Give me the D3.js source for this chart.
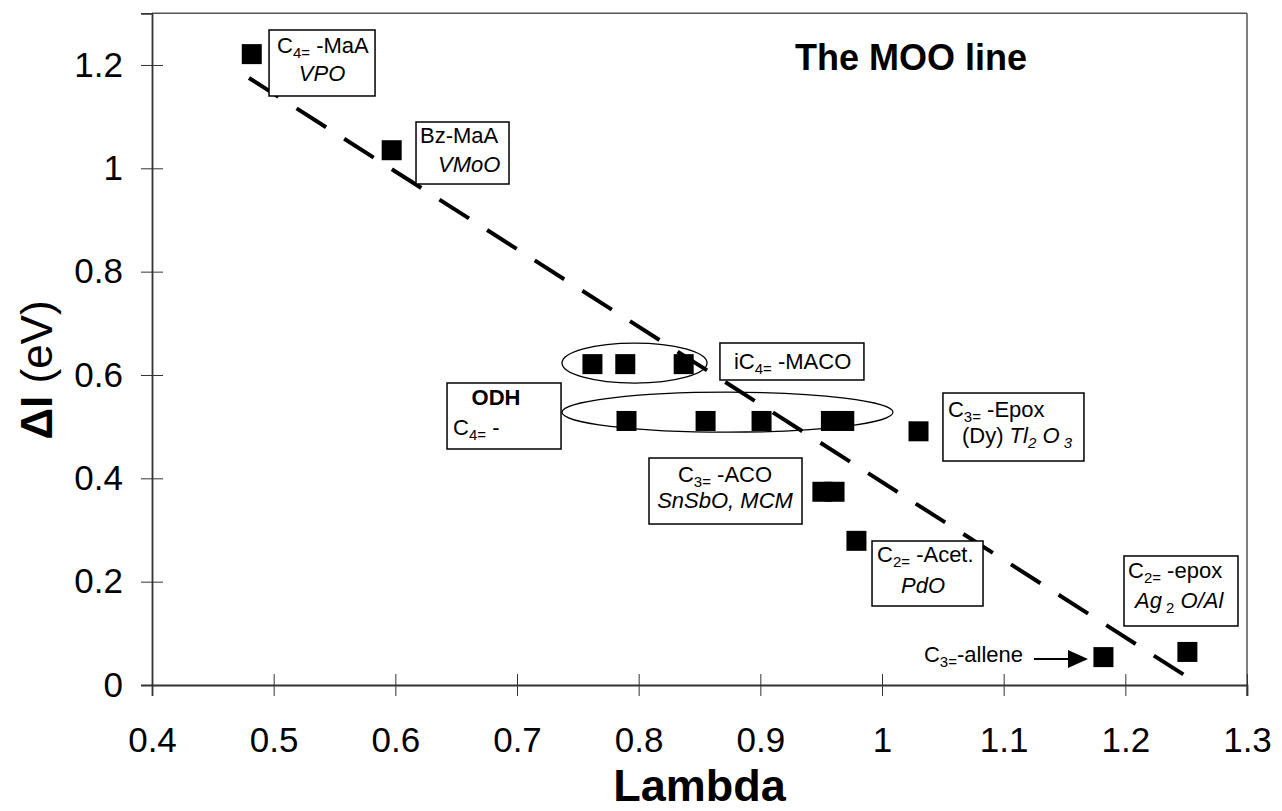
<!DOCTYPE html>
<html>
<head>
<meta charset="utf-8">
<script src="https://cdn.jsdelivr.net/npm/d3@7"></script>
<style>
  body { margin: 0; background: #fff; }
  svg { font-family: "Liberation Sans", Arial, sans-serif; }
</style>
</head>
<body>
<svg id="chart" width="1282" height="811"></svg>
<script>
// measured points (Lambda, delta I in eV)
var lambdaVals = [0.482, 0.597, 0.762, 0.789, 0.837, 0.790, 0.855, 0.901, 0.958, 0.969, 1.030, 0.951, 0.961, 0.979, 1.182, 1.251],
    deltaI     = [1.221, 1.035, 0.621, 0.621, 0.621, 0.511, 0.511, 0.511, 0.511, 0.511, 0.491, 0.374, 0.374, 0.279, 0.054, 0.064],
    xTicks = [0.4, 0.5, 0.6, 0.7, 0.8, 0.9, 1, 1.1, 1.2, 1.3],
    yTicks = [0, 0.2, 0.4, 0.6, 0.8, 1, 1.2],
    mooLine = [[0.4797, 1.1748], [1.2613, 0]];

// annotation anchors, in data units
var groups = [
    {cx: 0.7966, cy: 0.623, rx: 72.5, ry: 20},
    {cx: 0.873, cy: 0.528, rx: 165.5, ry: 20}
];
// segs: [text, flags]  flags: s = subscript, i = italic, b = bold
var notes = [
    {x: 0.4962, y: 1.2677, w: 106, h: 66, lines: [
        {dx: 8, dy: 23, a: "start", segs: [["C"], ["4=", "s"], [" -MaA"]]},
        {dx: 53, dy: 51, a: "middle", segs: [["VPO", "i"]]}]},
    {x: 0.6170, y: 1.0896, w: 93, h: 62, lines: [
        {dx: 4, dy: 21, a: "start", segs: [["Bz-MaA"]]},
        {dx: 22, dy: 50, a: "start", segs: [["VMoO", "i"]]}]},
    {x: 0.8668, y: 0.6619, w: 144, h: 37, lines: [
        {dx: 14, dy: 26, a: "start", segs: [["iC"], ["4=", "s"], [" -MACO"]]}]},
    {x: 0.6425, y: 0.5845, w: 114, h: 66, lines: [
        {dx: 49, dy: 22, a: "middle", segs: [["ODH", "b"]]},
        {dx: 6, dy: 52, a: "start", segs: [["C"], ["4=", "s"], [" -"]]}]},
    {x: 1.0501, y: 0.5651, w: 141, h: 68, lines: [
        {dx: 5, dy: 24, a: "start", segs: [["C"], ["3=", "s"], [" -Epox"]]},
        {dx: 19, dy: 50, a: "start", segs: [["(Dy)"], [" Tl", "i"], ["2", "si"], [" O", "i"], [" 3", "si"]]}]},
    {x: 0.8085, y: 0.4393, w: 153, h: 66, lines: [
        {dx: 76, dy: 24, a: "middle", segs: [["C"], ["3=", "s"], [" -ACO"]]},
        {dx: 76, dy: 50, a: "middle", segs: [["SnSbO, MCM", "i"]]}]},
    {x: 0.9918, y: 0.2787, w: 111, h: 65, lines: [
        {dx: 5, dy: 21, a: "start", segs: [["C"], ["2=", "s"], [" -Acet."]]},
        {dx: 51, dy: 52, a: "middle", segs: [["PdO", "i"]]}]},
    {x: 1.1989, y: 0.2497, w: 114, h: 70, lines: [
        {dx: 4, dy: 22, a: "start", segs: [["C"], ["2=", "s"], [" -epox"]]},
        {dx: 11, dy: 52, a: "start", segs: [["Ag", "i"], [" 2", "s"], [" O/Al", "i"]]}]}
];
var allene = {tx: 1.1159, ty: 0.0445, ax1: 1.1249, ax2: 1.1693, ay: 0.0503};

var svg = d3.select("#chart"),
    x = d3.scaleLinear().domain([0.4, 1.3]).range([152, 1247]),
    y = d3.scaleLinear().domain([0, 1.3]).range([685, 13.3]),
    axisCol = "#333";

svg.append("rect").attr("width", 1282).attr("height", 811).attr("fill", "#fff");

// frame top + right
svg.append("line").attr("x1", x(0.4)).attr("x2", x(1.3)).attr("y1", y(1.3)).attr("y2", y(1.3))
    .attr("stroke", "#555").attr("stroke-width", 1.5);
svg.append("line").attr("x1", x(1.3)).attr("x2", x(1.3)).attr("y1", y(1.3)).attr("y2", y(0) + 11)
    .attr("stroke", "#555").attr("stroke-width", 1.5);

var gx = svg.append("g").attr("transform", "translate(0," + y(0) + ")")
    .call(d3.axisBottom(x).tickValues(xTicks).tickFormat(d3.format("")).tickSizeOuter(0).tickSize(11));
var gy = svg.append("g").attr("transform", "translate(" + x(0.4) + ",0)")
    .call(d3.axisLeft(y).tickValues(yTicks).tickFormat(d3.format("")).tickSizeOuter(0).tickSize(11).tickPadding(18));

[gx, gy].forEach(function (g) {
    g.select(".domain").attr("stroke", axisCol).attr("stroke-width", 1.8);
    g.selectAll(".tick line").attr("stroke", axisCol).attr("stroke-width", 1);
    g.selectAll(".tick text").attr("fill", "#000").style("font-size", "35px")
        .style("font-family", "'Liberation Sans', Arial, sans-serif");
});
gx.selectAll(".tick line").attr("y1", -11).attr("y2", 11);
gx.selectAll(".tick text").attr("y", 67).attr("dy", 0);
gy.selectAll(".tick line").attr("x1", 11).attr("x2", -11);

// axis titles
svg.append("text").attr("x", (x(0.4) + x(1.3)) / 2).attr("y", 801).attr("text-anchor", "middle")
    .style("font-size", "45px").style("font-weight", "bold").text("Lambda");
var yl = svg.append("text").attr("transform", "translate(52,370) rotate(-90)").attr("text-anchor", "middle")
    .style("font-size", "44px");
yl.append("tspan").style("font-weight", "bold").text("ΔI");
yl.append("tspan").text("  (eV)");

svg.append("text").attr("x", 795).attr("y", 70).style("font-size", "36px").style("font-weight", "bold")
    .text("The MOO line");

// MOO dashed line
svg.append("line")
    .attr("x1", x(mooLine[0][0])).attr("y1", y(mooLine[0][1]))
    .attr("x2", x(mooLine[1][0])).attr("y2", y(mooLine[1][1]))
    .attr("stroke", "#000").attr("stroke-width", 4).attr("stroke-dasharray", "35,21.5");

// group ellipses
svg.selectAll(".grp").data(groups).enter().append("ellipse").attr("class", "grp")
    .attr("cx", function (d) { return x(d.cx); }).attr("cy", function (d) { return y(d.cy); })
    .attr("rx", function (d) { return d.rx; }).attr("ry", function (d) { return d.ry; })
    .attr("fill", "none").attr("stroke", "#000").attr("stroke-width", 1.3);

// points
var pts = lambdaVals.map(function (v, i) { return [v, deltaI[i]]; });
svg.selectAll(".pt").data(pts).enter().append("rect").attr("class", "pt")
    .attr("x", function (d) { return x(d[0]) - 10; }).attr("y", function (d) { return y(d[1]) - 10; })
    .attr("width", 20).attr("height", 20).attr("fill", "#000");

function addSegs(t, segs) {
    var shift = 0;
    segs.forEach(function (s) {
        var f = s[1] || "", sub = f.indexOf("s") >= 0,
            want = sub ? 5 : 0;
        t.append("tspan").attr("dy", want - shift)
            .style("font-size", sub ? "15px" : null)
            .style("font-style", f.indexOf("i") >= 0 ? "italic" : null)
            .style("font-weight", f.indexOf("b") >= 0 ? "bold" : null)
            .text(s[0]);
        shift = want;
    });
}

// boxed notes
var ng = svg.selectAll(".note").data(notes).enter().append("g").attr("class", "note")
    .attr("transform", function (d) { return "translate(" + x(d.x) + "," + y(d.y) + ")"; });
ng.append("rect").attr("width", function (d) { return d.w; }).attr("height", function (d) { return d.h; })
    .attr("fill", "#fff").attr("stroke", "#000").attr("stroke-width", 1.5);
ng.each(function (d) {
    var g = d3.select(this);
    d.lines.forEach(function (l) {
        var t = g.append("text").attr("x", l.dx).attr("y", l.dy).attr("text-anchor", l.a)
            .style("font-size", "22px");
        addSegs(t, l.segs);
    });
});

// allene label + arrow
var at = svg.append("text").attr("x", x(allene.tx)).attr("y", y(allene.ty)).attr("text-anchor", "end")
    .style("font-size", "22px");
addSegs(at, [["C"], ["3=", "s"], ["-allene"]]);
svg.append("line").attr("x1", x(allene.ax1)).attr("x2", x(allene.ax2) - 18)
    .attr("y1", y(allene.ay)).attr("y2", y(allene.ay)).attr("stroke", "#000").attr("stroke-width", 2);
svg.append("path")
    .attr("d", d3.line()([[x(allene.ax2), y(allene.ay)], [x(allene.ax2) - 20, y(allene.ay) - 9], [x(allene.ax2) - 20, y(allene.ay) + 9]]) + "Z")
    .attr("fill", "#000");
</script>
</body>
</html>
